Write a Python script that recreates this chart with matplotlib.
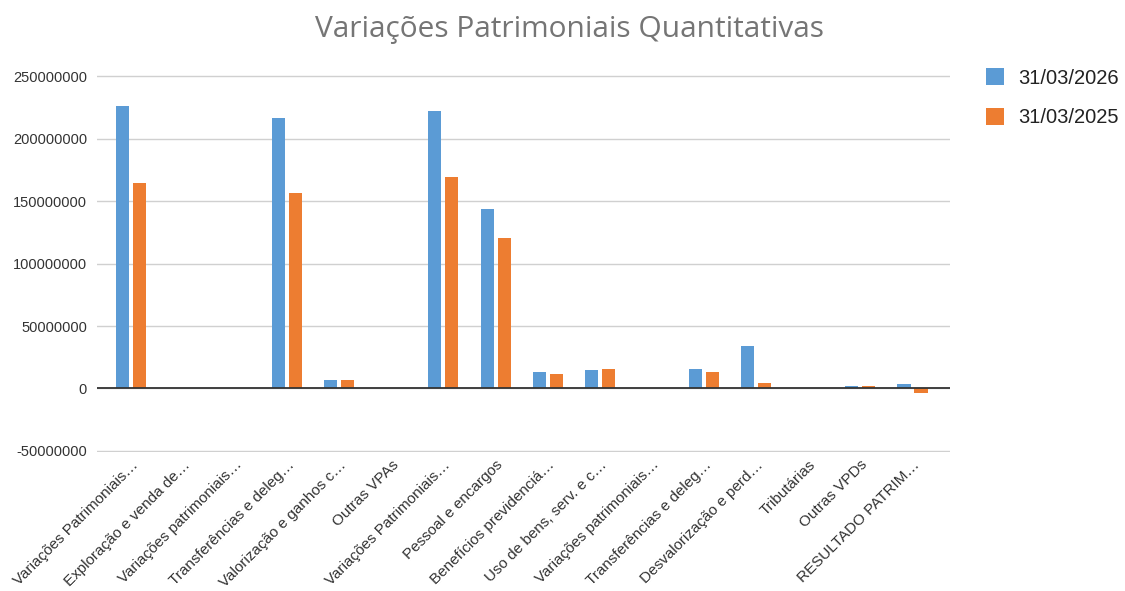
# Variações Patrimoniais Quantitativas - grouped bar chart

import numpy as np
import matplotlib.pyplot as plt

# -------------------- Data --------------------
categorias = [
    "Variações Patrimoniais…",
    "Exploração e venda de…",
    "Variações patrimoniais…",
    "Transferências e deleg…",
    "Valorização e ganhos c…",
    "Outras VPAs",
    "Variações Patrimoniais…",
    "Pessoal e encargos",
    "Benefícios previdenciá…",
    "Uso de bens, serv. e c…",
    "Variações patrimoniais…",
    "Transferências e deleg…",
    "Desvalorização e perd…",
    "Tributárias",
    "Outras VPDs",
    "RESULTADO PATRIM…",
]
valores_2026 = [226e6, 0, 0, 217e6, 7e6, 0, 222e6, 144e6, 13e6, 14.4e6,
                0, 15.7e6, 33.8e6, 0, 2.2e6, 3.5e6]
valores_2025 = [164.5e6, 0, 0, 156.5e6, 7e6, 0, 169e6, 120.6e6, 11.7e6, 15.7e6,
                0, 13e6, 4.5e6, 0, 2e6, -3.5e6]
series = ["31/03/2026", "31/03/2025"]
yticks = [-50000000, 0, 50000000, 100000000, 150000000, 200000000, 250000000]

# -------------------- Plot --------------------
plt.rcParams['font.family'] = ['Liberation Sans', 'DejaVu Sans']

fig = plt.figure(figsize=(11.25, 5.91), dpi=100)
ax = fig.add_axes([0.086, 0.235, 0.758, 0.638])

x = np.arange(len(categorias))
w = 0.25
off = 0.163
ax.bar(x - off, valores_2026, w, color="#5b9bd5", label=series[0], zorder=3)
ax.bar(x + off, valores_2025, w, color="#ed7d31", label=series[1], zorder=3)

ax.set_xlim(-0.652, 15.71)
ax.set_ylim(-51e6, 251e6)
ax.set_yticks(yticks)
ax.set_yticklabels([str(v) for v in yticks], fontsize=10.5, color="#333333")
ax.yaxis.grid(True, color="#d0d0d0", linewidth=1, zorder=0)
ax.axhline(0, color="#333333", linewidth=1.3, zorder=4)
ax.tick_params(axis="y", length=0, pad=7)
ax.tick_params(axis="x", length=0, pad=4)
for s in ax.spines.values():
    s.set_visible(False)

ax.set_xticks(x)
ax.set_xticklabels(categorias, rotation=45, ha="right", rotation_mode="anchor",
                   fontsize=11, color="#333333")

fig.suptitle("Variações Patrimoniais Quantitativas", x=0.506, y=0.975,
             fontsize=21.5, color="#757575", family=["Open Sans", "DejaVu Sans"])

leg = fig.legend(loc="upper left", bbox_to_anchor=(0.86, 0.915), frameon=False,
                 fontsize=14.5, handlelength=0.9, handleheight=0.9,
                 handletextpad=0.7, labelspacing=1.0)
for t in leg.get_texts():
    t.set_color("#222222")

fig.savefig("out.png", dpi=100)
